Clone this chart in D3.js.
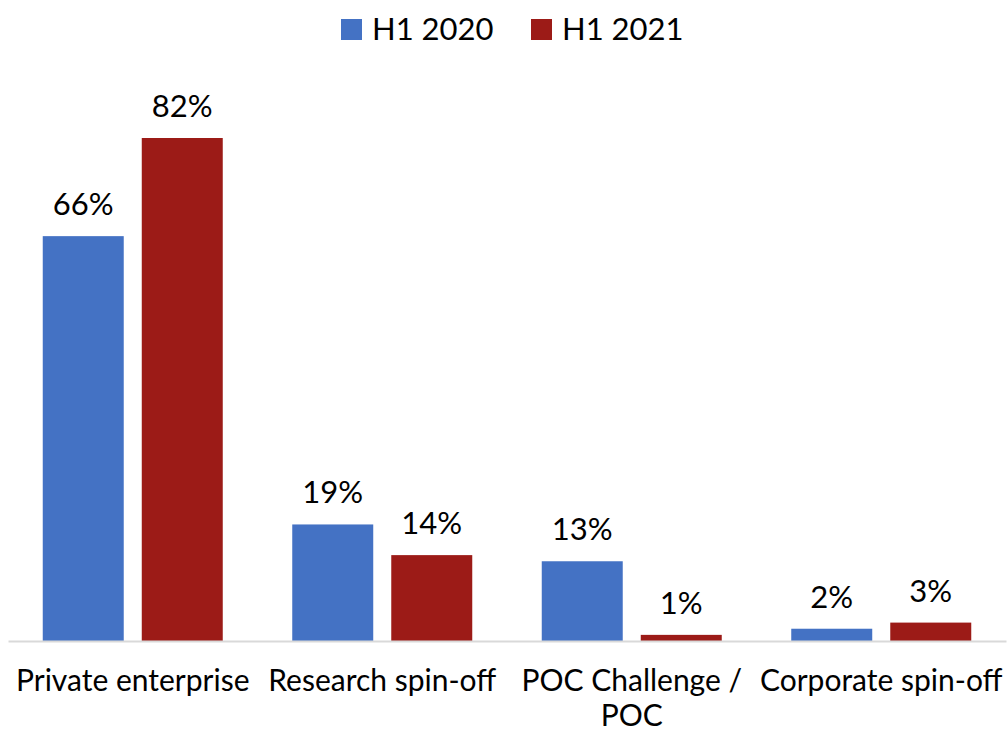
<!DOCTYPE html>
<html>
<head>
<meta charset="utf-8">
<script src="https://cdn.jsdelivr.net/npm/d3@7"></script>
<style>
  body { margin: 0; background: #fff; }
  text { font-family: Lato, "Open Sans", sans-serif; fill: #000; }
</style>
</head>
<body>
<div id="chart"></div>
<script>
// chart data
var categories = ["Private enterprise", "Research spin-off", "POC Challenge / POC", "Corporate spin-off"]
var series = ["H1 2020", "H1 2021"]
var h1_2020 = [66, 19, 13, 2]
var h1_2021 = [82, 14, 1, 3]
var colors = ["#4472C4", "#9C1B17"]

var width = 1008
var height = 733
var baseline = 641

var rows = categories.map(function(c, i) {
  return { cat: c, values: [h1_2020[i], h1_2021[i]] }
})

var svg = d3.select("#chart")
  .append("svg")
    .attr("width", width)
    .attr("height", height)

var x0 = d3.scaleBand()
  .domain(categories)
  .range([8, 1006])

var x1 = d3.scaleBand()
  .domain(series)
  .range([34.75, x0.bandwidth() - 34.75])
  .paddingInner(0.182)

var y = d3.scaleLinear()
  .domain([0, 82])
  .range([baseline, 138])

var color = d3.scaleOrdinal()
  .domain(series)
  .range(colors)

// bars
var groups = svg.append("g")
  .selectAll("g")
  .data(rows)
  .enter()
  .append("g")
    .attr("transform", function(d){ return "translate(" + x0(d.cat) + ",0)" })

groups.selectAll("rect")
  .data(function(d){ return d.values.map(function(v, i){ return { s: series[i], v: v } }) })
  .enter()
  .append("rect")
    .attr("x", function(d){ return x1(d.s) })
    .attr("y", function(d){ return y(d.v) })
    .attr("width", x1.bandwidth())
    .attr("height", function(d){ return baseline - y(d.v) })
    .style("fill", function(d){ return color(d.s) })

groups.selectAll("text.val")
  .data(function(d){ return d.values.map(function(v, i){ return { s: series[i], v: v } }) })
  .enter()
  .append("text")
    .attr("class", "val")
    .attr("x", function(d){ return x1(d.s) + x1.bandwidth() / 2 })
    .attr("y", function(d){ return y(d.v) - 21 })
    .attr("text-anchor", "middle")
    .style("font-size", "31px")
    .text(function(d){ return d.v + "%" })

// x axis
var xAxis = svg.append("g")
  .attr("transform", "translate(0," + baseline + ")")
  .call(d3.axisBottom(x0).tickSize(0).tickPadding(0).tickSizeOuter(0))

xAxis.select(".domain")
  .attr("stroke", "#d9d9d9")
  .attr("stroke-width", 2)

xAxis.selectAll(".tick text")
  .style("font-size", "30px")
  .style("font-family", "Lato, 'Open Sans', sans-serif")
  .attr("fill", "#000")
  .attr("dy", null)
  .attr("y", 50)
  .call(wrap, x0.bandwidth())

function wrap(texts, w) {
  texts.each(function() {
    var text = d3.select(this)
    var words = text.text().split(/\s+/)
    var line = []
    var lineNo = 0
    var yy = text.attr("y")
    var tspan = text.text(null).append("tspan").attr("x", 0).attr("y", yy)
    words.forEach(function(word) {
      line.push(word)
      tspan.text(line.join(" "))
      if (tspan.node().getComputedTextLength() > w && line.length > 1) {
        line.pop()
        tspan.text(line.join(" "))
        line = [word]
        lineNo++
        tspan = text.append("tspan").attr("x", 0).attr("y", +yy + lineNo * 35).text(word)
      }
    })
  })
}

// legend
var legendX = [341, 531]
var legend = svg.append("g")
  .selectAll("g")
  .data(series)
  .enter()
  .append("g")
    .attr("transform", function(d, i){ return "translate(" + legendX[i] + ",0)" })

legend.append("rect")
  .attr("x", 0)
  .attr("y", 19)
  .attr("width", 21)
  .attr("height", 21)
  .style("fill", function(d){ return color(d) })

legend.append("text")
  .attr("x", 31)
  .attr("y", 40)
  .style("font-size", "31px")
  .text(function(d){ return d })
</script>
</body>
</html>
